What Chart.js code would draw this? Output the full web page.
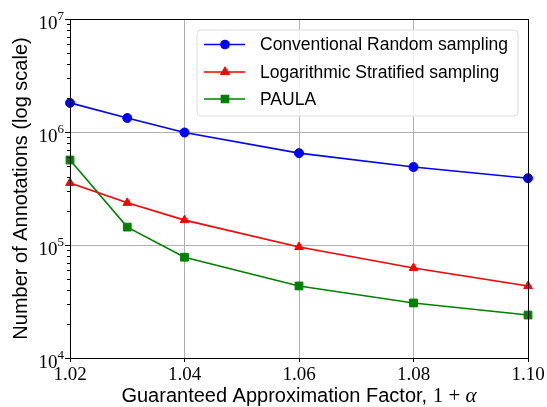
<!DOCTYPE html>
<html><head><meta charset="utf-8">
<script src="https://cdn.jsdelivr.net/npm/chart.js@4/dist/chart.umd.min.js"></script>
<style>html,body{margin:0;padding:0;background:#fff;overflow:hidden}</style>
</head><body>
<canvas id="c" width="547" height="407" style="width:547px;height:407px;display:block"></canvas>
<script>
const xValues = [1.02, 1.03, 1.04, 1.06, 1.08, 1.10];
const randomSampling = [1.81e6, 1.33e6, 0.99e6, 6.5e5, 4.9e5, 3.9e5];
const stratifiedSampling = [3.54e5, 2.36e5, 1.66e5, 9.6e4, 6.25e4, 4.34e4];
const paulaValues = [5.65e5, 1.44e5, 7.8e4, 4.34e4, 3.07e4, 2.4e4];
const xTickValues = [1.02, 1.04, 1.06, 1.08, 1.10];
const yTickValues = [1e4, 1e5, 1e6, 1e7];
const yTickExponents = ['4', '5', '6', '7'];
const seriesNames = ['Conventional Random sampling', 'Logarithmic Stratified sampling', 'PAULA'];
const xTitle = 'Guaranteed Approximation Factor, ';
const yTitle = 'Number of Annotations (log scale)';

const SANS = '"Liberation Sans", Arial, sans-serif';
const SERIF = '"Liberation Serif", "Times New Roman", serif';
const colors = ['#0000ff', '#ff0000', '#008000'];
const shapes = ['circle', 'triangle', 'rect'];
const radii = [4.5, 5, 5.5];

function pts(ys) { return xValues.map((x, i) => ({x: x, y: ys[i]})); }
const allSeries = [randomSampling, stratifiedSampling, paulaValues];

const datasets = allSeries.map((ys, i) => ({
  label: seriesNames[i],
  data: pts(ys),
  borderColor: colors[i],
  backgroundColor: colors[i],
  borderWidth: 1.6,
  pointStyle: shapes[i],
  pointRadius: radii[i],
  pointHoverRadius: radii[i],
  pointBorderWidth: 1,
  tension: 0,
  clip: false
}));

const decor = {
  id: 'decor',
  afterDraw(chart) {
    const ctx = chart.ctx;
    const a = chart.chartArea;
    const ys = chart.scales.y;
    ctx.save();
    // frame
    ctx.strokeStyle = '#000';
    ctx.lineWidth = 1;
    ctx.strokeRect(Math.round(a.left) + 0.5, Math.round(a.top) + 0.5, Math.round(a.right - a.left), Math.round(a.bottom - a.top));
    // minor y ticks
    ctx.beginPath();
    for (let e = 4; e < 7; e++) {
      for (let m = 2; m <= 9; m++) {
        const py = Math.round(ys.getPixelForValue(m * Math.pow(10, e))) + 0.5;
        ctx.moveTo(a.left - 3, py); ctx.lineTo(a.left, py);
      }
    }
    ctx.stroke();
    // y tick labels with superscripts
    ctx.fillStyle = '#000';
    ctx.textBaseline = 'alphabetic';
    yTickValues.forEach((v, i) => {
      const py = ys.getPixelForValue(v);
      ctx.font = '13px ' + SERIF;
      const ew = ctx.measureText(yTickExponents[i]).width;
      ctx.textAlign = 'right';
      ctx.fillText(yTickExponents[i], a.left - 6, py + 1);
      ctx.font = '19px ' + SERIF;
      ctx.fillText('10', a.left - 6 - ew, py + 10);
    });
    // y title
    ctx.save();
    ctx.translate(21, (a.top + a.bottom) / 2);
    ctx.rotate(-Math.PI / 2);
    ctx.font = '20px ' + SANS;
    ctx.textAlign = 'center';
    ctx.textBaseline = 'middle';
    ctx.fillText(yTitle, 0, 0);
    ctx.restore();
    // x title (mixed fonts)
    ctx.textAlign = 'left';
    ctx.textBaseline = 'alphabetic';
    ctx.font = '20px ' + SANS;
    const w1 = ctx.measureText(xTitle).width;
    ctx.font = '21px ' + SERIF;
    const w2 = ctx.measureText('1 + ').width;
    ctx.font = 'italic 21px ' + SERIF;
    const w3 = ctx.measureText('α').width;
    let sx = (a.left + a.right) / 2 - (w1 + w2 + w3) / 2;
    const by = 402;
    ctx.font = '20px ' + SANS; ctx.fillText(xTitle, sx, by); sx += w1;
    ctx.font = '21px ' + SERIF; ctx.fillText('1 + ', sx, by); sx += w2;
    ctx.font = 'italic 21px ' + SERIF; ctx.fillText('α', sx, by);
    // legend
    const L = {x: 197, y: 30, w: 321, h: 86, r: 4};
    ctx.beginPath();
    ctx.moveTo(L.x + L.r, L.y);
    ctx.arcTo(L.x + L.w, L.y, L.x + L.w, L.y + L.h, L.r);
    ctx.arcTo(L.x + L.w, L.y + L.h, L.x, L.y + L.h, L.r);
    ctx.arcTo(L.x, L.y + L.h, L.x, L.y, L.r);
    ctx.arcTo(L.x, L.y, L.x + L.w, L.y, L.r);
    ctx.closePath();
    ctx.fillStyle = 'rgba(255,255,255,0.8)';
    ctx.fill();
    ctx.strokeStyle = '#dcdcdc';
    ctx.lineWidth = 1;
    ctx.stroke();
    const rowsY = [44.5, 72, 99];
    seriesNames.forEach((name, i) => {
      const ry = rowsY[i];
      ctx.strokeStyle = colors[i];
      ctx.lineWidth = 1.6;
      ctx.beginPath(); ctx.moveTo(204, ry); ctx.lineTo(245, ry); ctx.stroke();
      ctx.fillStyle = colors[i];
      Chart.helpers.drawPoint(ctx, {pointStyle: shapes[i], radius: radii[i] - 0.5, borderWidth: 1, rotation: 0}, 225, ry);
      ctx.fill();
      ctx.fillStyle = '#000';
      ctx.font = '17.5px ' + SANS;
      ctx.textAlign = 'left';
      ctx.textBaseline = 'middle';
      ctx.fillText(name, 260, ry + 1);
    });
    ctx.restore();
  }
};

new Chart(document.getElementById('c'), {
  type: 'line',
  data: { datasets: datasets },
  options: {
    responsive: false,
    animation: false,
    layout: { padding: { left: 0, right: 19, top: 19, bottom: 0 } },
    plugins: { legend: { display: false }, tooltip: { enabled: false } },
    scales: {
      x: {
        type: 'linear',
        min: 1.02, max: 1.10,
        afterFit(s) { s.height = 49; },
        afterBuildTicks(s) { s.ticks = xTickValues.map(v => ({value: v})); },
        ticks: {
          font: { family: SERIF, size: 19 },
          color: '#000',
          padding: 2,
          maxRotation: 0,
          autoSkip: false,
          callback: v => Number(v).toFixed(2)
        },
        grid: { color: '#b0b0b0', lineWidth: 1, tickLength: 4, tickColor: '#000' },
        border: { display: false }
      },
      y: {
        type: 'logarithmic',
        min: 1e4, max: 1e7,
        afterFit(s) { s.width = 70; },
        afterBuildTicks(s) { s.ticks = yTickValues.map(v => ({value: v})); },
        ticks: { callback: () => '', autoSkip: false },
        grid: { color: '#b0b0b0', lineWidth: 1, tickLength: 5, tickColor: '#000' },
        border: { display: false }
      }
    }
  },
  plugins: [decor]
});
</script>
</body></html>
